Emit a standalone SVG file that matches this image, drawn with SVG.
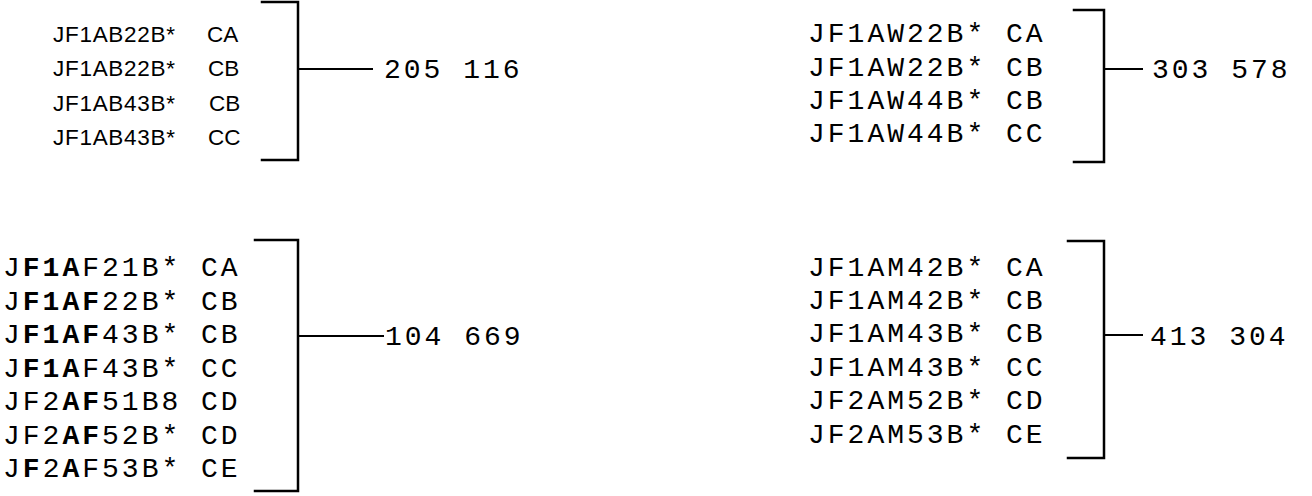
<svg xmlns="http://www.w3.org/2000/svg" width="1312" height="496" viewBox="0 0 1312 496">
<style>
.bg{fill:#fff}
.br{fill:none;stroke:#000;stroke-width:2.5;stroke-linecap:square}
.cn{fill:none;stroke:#000;stroke-width:2}
.sans{font-family:"Liberation Sans",Arial,sans-serif;font-size:22.5px;fill:#000}
.mono{font-family:"Liberation Mono","Courier New",monospace;font-size:28px;letter-spacing:3px;fill:#000}
.b{font-weight:bold}
</style>
<rect class="bg" x="0" y="0" width="1312" height="496"/>
<g id="group-ab">
<text class="sans" x="53" y="41.5" textLength="122" lengthAdjust="spacing">JF1AB22B*</text>
<text class="sans" x="207" y="41.5">CA</text>
<text class="sans" x="53" y="76" textLength="122" lengthAdjust="spacing">JF1AB22B*</text>
<text class="sans" x="208" y="76">CB</text>
<text class="sans" x="53" y="110.5" textLength="122" lengthAdjust="spacing">JF1AB43B*</text>
<text class="sans" x="209" y="110.5">CB</text>
<text class="sans" x="53" y="145" textLength="122" lengthAdjust="spacing">JF1AB43B*</text>
<text class="sans" x="208" y="145">CC</text>
<path class="br" d="M262,2 H298 V160 H262"/>
</g>
<g id="group-aw">
<text class="mono" x="808" y="42">JF1AW22B* CA</text>
<text class="mono" x="808" y="75.5">JF1AW22B* CB</text>
<text class="mono" x="808" y="108.5">JF1AW44B* CB</text>
<text class="mono" x="808" y="141.5">JF1AW44B* CC</text>
<path class="br" d="M1074,10 H1104 V162 H1074"/>
</g>
<g id="group-af">
<text class="mono" x="3" y="276"><tspan>J</tspan><tspan class="b">F1A</tspan><tspan>F21B* CA</tspan></text>
<text class="mono" x="3" y="309.5"><tspan>J</tspan><tspan class="b">F1AF</tspan><tspan>22B* CB</tspan></text>
<text class="mono" x="3" y="343"><tspan>J</tspan><tspan class="b">F1AF</tspan><tspan>43B* CB</tspan></text>
<text class="mono" x="3" y="376.5"><tspan>J</tspan><tspan class="b">F1A</tspan><tspan>F43B* CC</tspan></text>
<text class="mono" x="3" y="410"><tspan>JF2</tspan><tspan class="b">AF</tspan><tspan>51B8 CD</tspan></text>
<text class="mono" x="3" y="443.5"><tspan>JF2</tspan><tspan class="b">AF</tspan><tspan>52B* CD</tspan></text>
<text class="mono" x="3" y="477"><tspan>J</tspan><tspan class="b">F</tspan><tspan>2</tspan><tspan class="b">A</tspan><tspan>F53B* CE</tspan></text>
<path class="br" d="M255,240 H298 V491 H255"/>
</g>
<g id="group-am">
<text class="mono" x="808" y="275.5">JF1AM42B* CA</text>
<text class="mono" x="808" y="308.5">JF1AM42B* CB</text>
<text class="mono" x="808" y="342">JF1AM43B* CB</text>
<text class="mono" x="808" y="375.5">JF1AM43B* CC</text>
<text class="mono" x="808" y="409">JF2AM52B* CD</text>
<text class="mono" x="808" y="442.5">JF2AM53B* CE</text>
<path class="br" d="M1068,241 H1104 V458 H1068"/>
</g>
<g id="label-205116"><text class="mono" x="384" y="78">205 116</text></g>
<g id="label-303578"><text class="mono" x="1152" y="78">303 578</text></g>
<g id="label-104669"><text class="mono" x="385" y="345">104 669</text></g>
<g id="label-413304"><text class="mono" x="1150" y="345">413 304</text></g>
<g id="connectors">
<line class="cn" x1="298" y1="69" x2="373" y2="69"/>
<line class="cn" x1="1104" y1="69" x2="1143" y2="69"/>
<line class="cn" x1="298" y1="336" x2="384" y2="336"/>
<line class="cn" x1="1104" y1="335" x2="1143" y2="335"/>
</g>
</svg>
